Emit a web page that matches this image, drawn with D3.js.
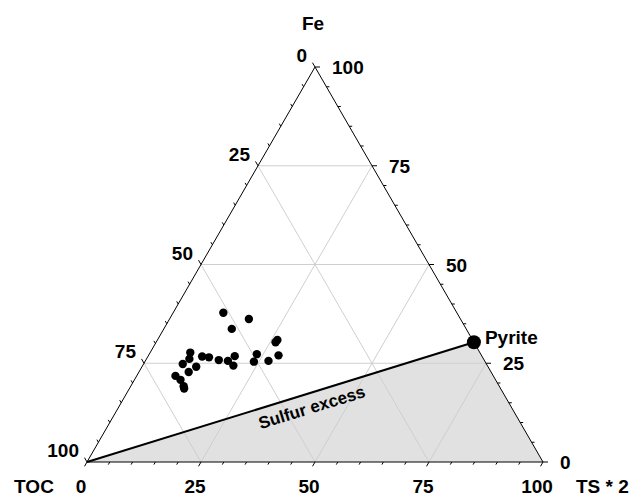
<!DOCTYPE html>
<html>
<head>
<meta charset="utf-8">
<script src="https://cdn.jsdelivr.net/npm/d3@7"></script>
<style>
  body { margin: 0; background: #fff; }
  text { font-family: "Liberation Sans", Arial, sans-serif; font-weight: bold; font-size: 19px; fill: #000; }
</style>
</head>
<body>
<svg id="chart" width="634" height="498"></svg>
<script>
// axis ticks (percent)
const tickValues = [0, 25, 50, 75, 100];
const gridValues = [25, 50, 75];
const minorValues = d3.range(5, 100, 5).filter((v) => v % 25 !== 0);

// samples: Fe and TS*2 (percent), TOC is the rest
const feValues = [37.8, 36.2, 33.7, 30.9, 30.3, 27.7, 26.7, 26.5, 25.8, 25.6, 26.8, 24.4,
  27.3, 25.4, 25.6, 27.0, 26.1, 24.8, 24.1, 22.8, 21.8, 20.8, 18.6, 19.2];
const ts2Values = [11.0, 17.4, 14.9, 26.3, 26.2, 8.8, 11.9, 13.5, 16.0, 18.1, 19.0, 19.9,
  23.6, 23.9, 27.0, 28.5, 9.4, 8.6, 11.9, 10.9, 8.5, 10.1, 12.0, 11.6];

// pyrite composition (FeS2)
const pyriteFe = 30.3;
const pyriteTs2 = 69.7;

const svg = d3.select('#chart');

// bottom edge spans TS*2 0..100, height is Fe 0..100
const x = d3.scaleLinear().domain([0, 100]).range([87, 543]);
const y = d3.scaleLinear().domain([0, 100]).range([462, 67]);

function pt(fe, ts) {
  return [x(ts + fe / 2), y(fe)];
}

const samples = feValues.map((fe, i) => ({ fe, ts: ts2Values[i], toc: 100 - fe - ts2Values[i] }));

// shaded sulfur-excess field
svg.append('path')
  .attr('d', d3.line()([pt(0, 0), pt(pyriteFe, pyriteTs2), pt(0, 100)]) + 'Z')
  .attr('fill', '#e1e1e1');

// grid
const grid = [];
gridValues.forEach((v) => {
  grid.push([pt(v, 0), pt(v, 100 - v)]);          // Fe
  grid.push([pt(0, v), pt(100 - v, v)]);          // TS*2
  grid.push([pt(0, 100 - v), pt(100 - v, 0)]);    // TOC
});
svg.append('g')
  .selectAll('line')
  .data(grid)
  .enter()
  .append('line')
  .attr('x1', (d) => d[0][0]).attr('y1', (d) => d[0][1])
  .attr('x2', (d) => d[1][0]).attr('y2', (d) => d[1][1])
  .attr('stroke', '#cfcfcf')
  .attr('stroke-width', 1);

// triangle outline
svg.append('path')
  .attr('d', d3.line()([pt(0, 0), pt(100, 0), pt(0, 100)]) + 'Z')
  .attr('fill', 'none')
  .attr('stroke', '#000')
  .attr('stroke-width', 1);

// ticks, pointing outward along the grid direction of each axis
const c60 = 0.5, s60 = Math.sqrt(3) / 2;
const axes = [
  { pos: (v) => pt(100 - v, 0), dir: [-c60, -s60] }, // TOC, left edge
  { pos: (v) => pt(v, 100 - v), dir: [1, 0] },       // Fe, right edge
  { pos: (v) => pt(0, v), dir: [-c60, s60] },        // TS*2, bottom edge
];
const ticks = [];
axes.forEach((a) => {
  tickValues.forEach((v) => ticks.push({ p: a.pos(v), d: a.dir, len: 5 }));
  minorValues.forEach((v) => ticks.push({ p: a.pos(v), d: a.dir, len: 3 }));
});
svg.append('g')
  .selectAll('line')
  .data(ticks)
  .enter()
  .append('line')
  .attr('x1', (d) => d.p[0]).attr('y1', (d) => d.p[1])
  .attr('x2', (d) => d.p[0] + d.d[0] * d.len)
  .attr('y2', (d) => d.p[1] + d.d[1] * d.len)
  .attr('stroke', '#000')
  .attr('stroke-width', 1);

// tick labels
svg.append('g')
  .selectAll('text')
  .data(tickValues)
  .enter()
  .append('text')
  .attr('x', (v) => axes[0].pos(v)[0] - 8)
  .attr('y', (v) => axes[0].pos(v)[1] - 5)
  .attr('text-anchor', 'end')
  .text((v) => v);

svg.append('g')
  .selectAll('text')
  .data(tickValues)
  .enter()
  .append('text')
  .attr('x', (v) => axes[1].pos(v)[0] + 17)
  .attr('y', (v) => axes[1].pos(v)[1] + 7)
  .text((v) => v);

svg.append('g')
  .selectAll('text')
  .data(tickValues)
  .enter()
  .append('text')
  .attr('x', (v) => axes[2].pos(v)[0] - 6)
  .attr('y', (v) => axes[2].pos(v)[1] + 31)
  .attr('text-anchor', 'middle')
  .text((v) => v);

// axis titles
const apex = pt(100, 0);
svg.append('text').attr('x', apex[0] - 2).attr('y', 30).attr('text-anchor', 'middle').text('Fe');
svg.append('text').attr('x', 34).attr('y', 493).attr('text-anchor', 'middle').text('TOC');
svg.append('text').attr('x', 576).attr('y', 493).text('TS * 2');

// sulfur-excess boundary
const p0 = pt(0, 0);
const p1 = pt(pyriteFe, pyriteTs2);
svg.append('line')
  .attr('x1', p0[0]).attr('y1', p0[1])
  .attr('x2', p1[0]).attr('y2', p1[1])
  .attr('stroke', '#000')
  .attr('stroke-width', 2);

const ang = Math.atan2(p1[1] - p0[1], p1[0] - p0[0]) * 180 / Math.PI;
const t = 0.57;
const mx = p0[0] + (p1[0] - p0[0]) * t;
const my = p0[1] + (p1[1] - p0[1]) * t;
svg.append('text')
  .attr('transform', `translate(${mx},${my}) rotate(${ang})`)
  .attr('x', 0)
  .attr('y', 20)
  .attr('text-anchor', 'middle')
  .style('font-size', '17px')
  .text('Sulfur excess');

// samples
svg.append('g')
  .selectAll('circle')
  .data(samples)
  .enter()
  .append('circle')
  .attr('cx', (d) => pt(d.fe, d.ts)[0])
  .attr('cy', (d) => pt(d.fe, d.ts)[1])
  .attr('r', 4.2)
  .attr('fill', '#000');

// pyrite
svg.append('circle')
  .attr('cx', p1[0]).attr('cy', p1[1])
  .attr('r', 7)
  .attr('fill', '#000');
svg.append('text').attr('x', p1[0] + 11).attr('y', p1[1] + 2).text('Pyrite');
</script>
</body>
</html>
